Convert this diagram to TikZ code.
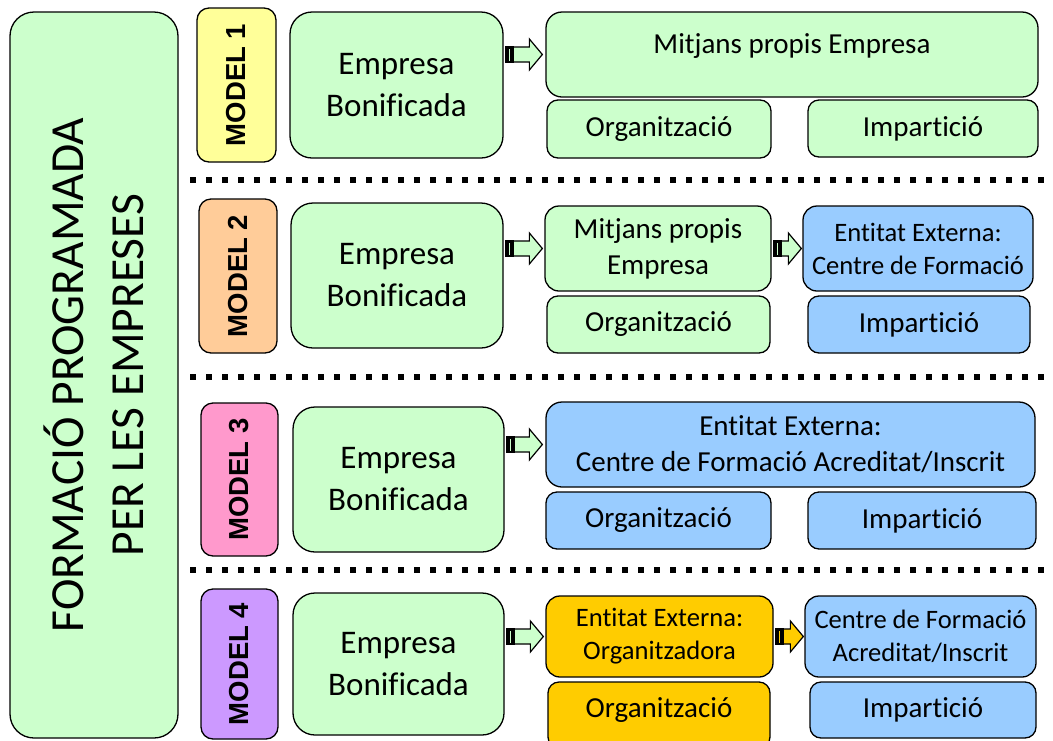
\documentclass[tikz,border=0pt]{standalone}
\usepackage{fontspec}
\setmainfont{Carlito}[Ligatures=NoCommon]
\newfontfamily\modelfont{Liberation Sans}
\usetikzlibrary{calc}
\definecolor{lgreen}{HTML}{CCFFCC}
\definecolor{lyellow}{HTML}{FFFF99}
\definecolor{lorange}{HTML}{FFCC99}
\definecolor{lpink}{HTML}{FF99CC}
\definecolor{lpurple}{HTML}{CC99FF}
\definecolor{lblue}{HTML}{99CCFF}
\definecolor{gold}{HTML}{FFCC00}
\newcommand\blockarr[3]{%
  \draw[arrbody, fill=#1] let \p1=(#2), \p2=(#3) in
    (\x1+9pt,\y1+7.5pt) -- (\x2-13pt,\y1+7.5pt) -- (\x2-13pt,\y1+15.5pt) -- (\x2,\y1)
    -- (\x2-13pt,\y1-15.5pt) -- (\x2-13pt,\y1-7.5pt) -- (\x1+9pt,\y1-7.5pt) -- cycle;
  \fill[black] let \p1=(#2) in (\x1+1pt,\y1-8.2pt) rectangle (\x1+10pt,\y1+8.2pt);
  \draw[#1, line width=1pt] let \p1=(#2) in (\x1+5.5pt,\y1-6pt) -- (\x1+5.5pt,\y1+6pt);
}
\begin{document}
\begin{tikzpicture}[x=1pt,y=-1pt,
  box/.style={draw=black, line width=1.3pt, rounded corners=11pt, align=center,
    inner sep=0pt, text=black},
  modelbox/.style={box, rotate=90, rounded corners=12pt,
    font=\modelfont\bfseries\fontsize{27.5}{30}\selectfont},
  bigtxt/.style={font=\fontsize{33}{42}\selectfont},
  midtxt/.style={font=\fontsize{29}{36}\selectfont},
  smalltxt/.style={font=\fontsize{26.6}{33}\selectfont},
  arrbody/.style={draw=black, line width=1.2pt, line join=miter},
  sep/.style={line width=6pt, dash pattern=on 6pt off 10pt}]
\useasboundingbox (0,0) rectangle (1053,740);
\clip (0,0) rectangle (1053,740);

% title
\node[box, rounded corners=24pt, fill=lgreen, rotate=90, minimum width=726pt,
  minimum height=168pt, font=\fontsize{47.5}{60}\selectfont] (title) at (94,375)
  {FORMACIÓ PROGRAMADA\\PER LES EMPRESES};

% separators
\coordinate (s1a) at (190,180); \coordinate (s1b) at (1060,180);
\coordinate (s2a) at (190,377); \coordinate (s2b) at (1060,377);
\coordinate (s3a) at (190,570); \coordinate (s3b) at (1060,570);
\draw[sep] (s1a) -- (s1b);
\draw[sep] (s2a) -- (s2b);
\draw[sep] (s3a) -- (s3b);

% MODEL 1
\node[modelbox, fill=lyellow, minimum width=154pt, minimum height=79pt] (m1) at (236.5,85) {MODEL 1};
\node[box, bigtxt, fill=lgreen, rounded corners=22pt, minimum width=213pt, minimum height=146pt] (e1) at (396.5,85) {Empresa\\Bonificada};
\node[box, midtxt, fill=lgreen, rounded corners=16pt, minimum width=492pt, minimum height=85pt, text depth=22pt] (mit1) at (792,54.5) {Mitjans propis Empresa};
\node[box, midtxt, fill=lgreen, minimum width=224pt, minimum height=58pt] (org1) at (659,129) {Organització};
\node[box, midtxt, fill=lgreen, minimum width=230pt, minimum height=57pt] (imp1) at (923,128.5) {Impartició};
\blockarr{lgreen}{e1.east |- mit1.west}{[xshift=-3pt]mit1.west}

% MODEL 2
\node[modelbox, fill=lorange, minimum width=154pt, minimum height=78pt] (m2) at (238,276) {MODEL 2};
\node[box, bigtxt, fill=lgreen, rounded corners=22pt, minimum width=212pt, minimum height=145pt] (e2) at (397,275.5) {Empresa\\Bonificada};
\node[box, midtxt, fill=lgreen, rounded corners=14pt, minimum width=226pt, minimum height=85pt] (mit2) at (658,248.5) {Mitjans propis\\Empresa};
\node[box, midtxt, fill=lgreen, minimum width=223pt, minimum height=57pt] (org2) at (658.5,324.5) {Organització};
\node[box, smalltxt, fill=lblue, rounded corners=14pt, minimum width=230pt, minimum height=85pt] (ent2) at (918,248.5) {Entitat Externa:\\Centre de Formació};
\node[box, midtxt, fill=lblue, minimum width=222pt, minimum height=57pt] (imp2) at (919,324.5) {Impartició};
\blockarr{lgreen}{e2.east |- mit2.west}{[xshift=-2pt]mit2.west}
\blockarr{lgreen}{mit2.east}{[xshift=-1pt]ent2.west}

% MODEL 3
\node[modelbox, fill=lpink, minimum width=153pt, minimum height=77pt] (m3) at (239.5,479.5) {MODEL 3};
\node[box, bigtxt, fill=lgreen, rounded corners=22pt, minimum width=211pt, minimum height=145pt] (e3) at (398.5,479.5) {Empresa\\Bonificada};
\node[box, midtxt, fill=lblue, rounded corners=16pt, minimum width=489pt, minimum height=85pt] (ent3) at (790.5,444.5) {Entitat Externa:\\Centre de Formació Acreditat/Inscrit};
\node[box, midtxt, fill=lblue, minimum width=225pt, minimum height=57pt] (org3) at (658.5,520.5) {Organització};
\node[box, midtxt, fill=lblue, minimum width=228pt, minimum height=57pt] (imp3) at (922,520.5) {Impartició};
\blockarr{lgreen}{e3.east |- ent3.west}{[xshift=-3pt]ent3.west}

% MODEL 4
\node[modelbox, fill=lpurple, minimum width=150pt, minimum height=77pt] (m4) at (239.5,664) {MODEL 4};
\node[box, bigtxt, fill=lgreen, rounded corners=22pt, minimum width=211pt, minimum height=142pt] (e4) at (398.5,664) {Empresa\\Bonificada};
\node[box, smalltxt, fill=gold, rounded corners=14pt, minimum width=227pt, minimum height=81pt] (oe4) at (659.5,636.5) {Entitat Externa:\\Organitzadora};
\node[box, midtxt, fill=gold, minimum width=222pt, minimum height=66pt, text depth=14pt] (org4) at (659,715) {Organització};
\node[box, smalltxt, fill=lblue, rounded corners=14pt, minimum width=231pt, minimum height=81pt] (cen4) at (920.5,636.5) {Centre de Formació\\Acreditat/Inscrit};
\node[box, midtxt, fill=lblue, minimum width=226pt, minimum height=56pt] (imp4) at (923,710) {Impartició};
\blockarr{lgreen}{e4.east |- oe4.west}{[xshift=-2pt]oe4.west}
\blockarr{gold}{oe4.east}{[xshift=-1pt]cen4.west}
\end{tikzpicture}
\end{document}
